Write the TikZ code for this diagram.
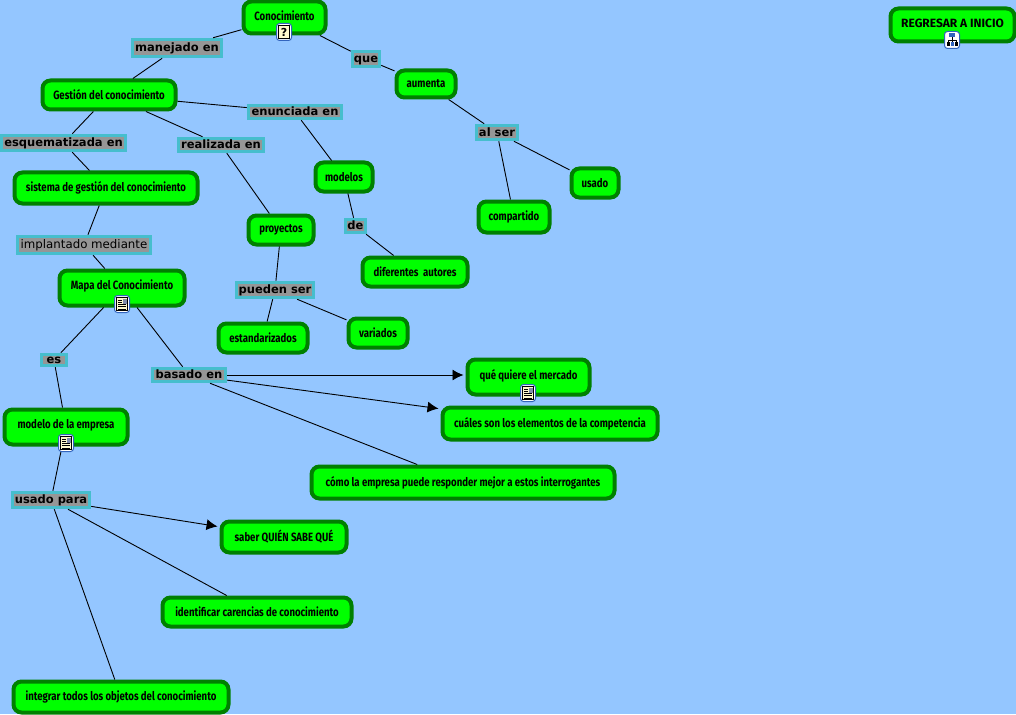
\documentclass[tikz,border=0pt]{standalone}
\usepackage{fontspec}
\usetikzlibrary{arrows.meta}
\newfontfamily\conceptfont[FakeStretch=0.8]{Fira Sans}
\newfontfamily\returnfont{Fira Sans}
\newfontfamily\linkfont{DejaVu Sans}
\definecolor{mapback}{RGB}{148,198,255}
\definecolor{conceptfill}{RGB}{0,255,0}
\definecolor{conceptline}{RGB}{0,128,0}
\definecolor{linkfill}{RGB}{150,150,150}
\definecolor{linkline}{RGB}{70,190,205}
\definecolor{iconline}{RGB}{50,100,190}
\definecolor{iconpaper}{RGB}{255,250,205}
\definecolor{iconpic}{RGB}{130,140,170}
\tikzset{
	concept/.style={draw=conceptline, fill=conceptfill, line width=4pt, rounded corners=8pt, inner sep=0pt, align=center, font=\conceptfont\bfseries\fontsize{12}{14}\selectfont},
	linkbold/.style={draw=linkline, fill=linkfill, line width=3.5pt, inner sep=0pt, text height=9pt, text depth=1.8pt, font=\linkfont\bfseries\fontsize{11.5}{13}\selectfont},
	linkplain/.style={linkbold, font=\linkfont\fontsize{11.8}{13}\selectfont},
	edge/.style={black, line width=.9pt},
	arrowedge/.style={edge, -{Latex[length=11pt,width=11pt]}, shorten >=2pt},
	iconbox/.style={draw=iconline, fill=white, line width=1pt, rounded corners=3pt, minimum width=15pt, minimum height=17pt, inner sep=0pt},
	docicon/.pic={
		\draw[black, fill=iconpaper, line width=.7pt] (-5.5,-6.5) rectangle (5.5,6.5);
		\fill[iconpic] (0.5,-5.5) rectangle (4.5,-0.5);
		\draw[black, line width=.8pt] (-4,-4) -- (-0.5,-4) (-4,-2) -- (-0.5,-2) (-4,0.5) -- (4,0.5) (-4,2.7) -- (4,2.7) (-4,4.9) -- (4,4.9);
	},
	askicon/.pic={
		\draw[black, fill=iconpaper, line width=.7pt] (-5.5,-6.5) rectangle (5.5,6.5);
		\node[inner sep=0pt, font=\linkfont\bfseries\fontsize{11}{11}\selectfont] (asktext) at (0,0) {?};
	},
	treeicon/.pic={
		\draw[black, line width=.8pt] (0,-3) -- (0,0) (-4,3) -- (-4,0) -- (4,0) -- (4,3) (0,0) -- (0,3);
		\fill[iconline] (-3,-6.5) rectangle (3,-3);
		\fill[black] (-5.5,2.5) rectangle (-2.5,6.5);
		\fill[iconline] (-1.5,2.5) rectangle (1.5,6.5);
		\fill[black] (2.5,2.5) rectangle (5.5,6.5);
	},
}
\begin{document}
\begin{tikzpicture}[x=1pt, y=-1pt]
	\useasboundingbox[fill=mapback] (0,0) rectangle (1016,714);
	%
	\node[concept, minimum width=82pt, minimum height=32pt] (conocimiento) at (284.5,17.5) {\raisebox{4pt}{Conocimiento}};
	\node[concept, minimum width=133pt, minimum height=29pt] (gestion) at (109,95) {Gestión del conocimiento};
	\node[concept, minimum width=183pt, minimum height=31pt] (sistema) at (106,188) {sistema de gestión del conocimiento};
	\node[concept, minimum width=65pt, minimum height=29pt] (proyectos) at (281,230) {proyectos};
	\node[concept, minimum width=57pt, minimum height=29pt] (modelos) at (344,177) {modelos};
	\node[concept, minimum width=59pt, minimum height=27pt] (aumenta) at (426,84) {aumenta};
	\node[concept, minimum width=47pt, minimum height=29pt] (usado) at (595,183) {usado};
	\node[concept, minimum width=71pt, minimum height=31pt] (compartido) at (514,217) {compartido};
	\node[concept, minimum width=105pt, minimum height=29pt] (diferentes) at (415,272) {diferentes\ \ autores};
	\node[concept, minimum width=125pt, minimum height=35pt] (mapa) at (122,288) {\raisebox{6pt}{Mapa del Conocimiento}};
	\node[concept, minimum width=89pt, minimum height=29pt] (estandarizados) at (263,338) {estandarizados};
	\node[concept, minimum width=59pt, minimum height=29pt] (variados) at (378,333) {variados};
	\node[concept, minimum width=123pt, minimum height=35pt] (modelo) at (66,427) {\raisebox{6pt}{modelo de la empresa}};
	\node[concept, minimum width=122pt, minimum height=35pt] (mercado) at (528.5,377) {\raisebox{6pt}{qué quiere el mercado}};
	\node[concept, minimum width=215pt, minimum height=32pt] (competencia) at (550,423.5) {cuáles son los elementos de la competencia};
	\node[concept, minimum width=303pt, minimum height=32pt] (interrogantes) at (463,482.5) {cómo la empresa puede responder mejor a estos interrogantes};
	\node[concept, minimum width=125pt, minimum height=31pt] (saber) at (284,537) {saber QUIÉN SABE QUÉ};
	\node[concept, minimum width=189pt, minimum height=29pt] (carencias) at (257,612) {identificar carencias de conocimiento};
	\node[concept, minimum width=215pt, minimum height=31pt] (integrar) at (121,697) {integrar todos los objetos del conocimiento};
	\node[concept, font=\returnfont\bfseries\fontsize{12}{14}\selectfont, minimum width=124pt, minimum height=33pt] (regresar) at (952.5,25) {\raisebox{3pt}{REGRESAR A INICIO}};
	%
	\node[linkbold, minimum width=89pt, minimum height=17pt] (manejado) at (177,48) {manejado en};
	\node[linkbold, minimum width=93pt, minimum height=13pt] (enunciada) at (295,112) {enunciada en};
	\node[linkbold, minimum width=124pt, minimum height=15pt] (esquematizada) at (63.5,143) {esquematizada en};
	\node[linkbold, minimum width=85pt, minimum height=13pt] (realizada) at (221,145) {realizada en};
	\node[linkplain, minimum width=133pt, minimum height=17pt] (implantado) at (84,245) {implantado mediante};
	\node[linkbold, minimum width=27pt, minimum height=15pt] (que) at (366,59) {que};
	\node[linkbold, minimum width=41pt, minimum height=14pt] (alser) at (497,132.5) {al ser};
	\node[linkbold, minimum width=20pt, minimum height=13pt] (de) at (355.5,226) {de};
	\node[linkbold, minimum width=77pt, minimum height=15pt] (pueden) at (275,290) {pueden ser};
	\node[linkbold, minimum width=25pt, minimum height=11pt] (es) at (54,360) {es};
	\node[linkbold, minimum width=73pt, minimum height=13pt] (basado) at (189,375) {basado en};
	\node[linkbold, minimum width=77pt, minimum height=15pt] (usadopara) at (51,500) {usado para};
	%
	\draw[edge] (conocimiento) -- (manejado);
	\draw[edge] (manejado) -- (gestion);
	\draw[edge] (conocimiento) -- (que);
	\draw[edge] (que) -- (aumenta);
	\draw[edge] (aumenta) -- (alser);
	\draw[edge] (alser) -- (usado);
	\draw[edge] (alser) -- (compartido);
	\draw[edge] (gestion) -- (enunciada);
	\draw[edge] (enunciada) -- (modelos);
	\draw[edge] (modelos) -- (de);
	\draw[edge] (de) -- (diferentes);
	\draw[edge] (gestion) -- (realizada);
	\draw[edge] (realizada) -- (proyectos);
	\draw[edge] (proyectos) -- (pueden);
	\draw[edge] (pueden) -- (estandarizados);
	\draw[edge] (pueden) -- (variados);
	\draw[edge] (gestion) -- (esquematizada);
	\draw[edge] (esquematizada) -- (sistema);
	\draw[edge] (sistema) -- (implantado);
	\draw[edge] (implantado) -- (mapa);
	\draw[edge] (mapa) -- (es);
	\draw[edge] (es) -- (modelo);
	\draw[edge] (mapa) -- (basado);
	\draw[arrowedge] (basado) -- (basado -| mercado.west);
	\draw[arrowedge] (basado) -- (competencia);
	\draw[edge] (basado) -- (interrogantes);
	\draw[edge] (modelo) -- (usadopara);
	\draw[arrowedge] (usadopara) -- (saber);
	\draw[edge] (usadopara) -- (carencias);
	\draw[edge] (usadopara) -- (integrar);
	%
	\node[iconbox] (iconconocimiento) at (284,32) {};
	\pic at (iconconocimiento) {askicon};
	\node[iconbox] (iconregresar) at (952,40) {};
	\pic at (iconregresar) {treeicon};
	\node[iconbox] (iconmapa) at (122,304) {};
	\pic at (iconmapa) {docicon};
	\node[iconbox] (iconmodelo) at (66,443) {};
	\pic at (iconmodelo) {docicon};
	\node[iconbox] (iconmercado) at (528,393) {};
	\pic at (iconmercado) {docicon};
\end{tikzpicture}
\end{document}
